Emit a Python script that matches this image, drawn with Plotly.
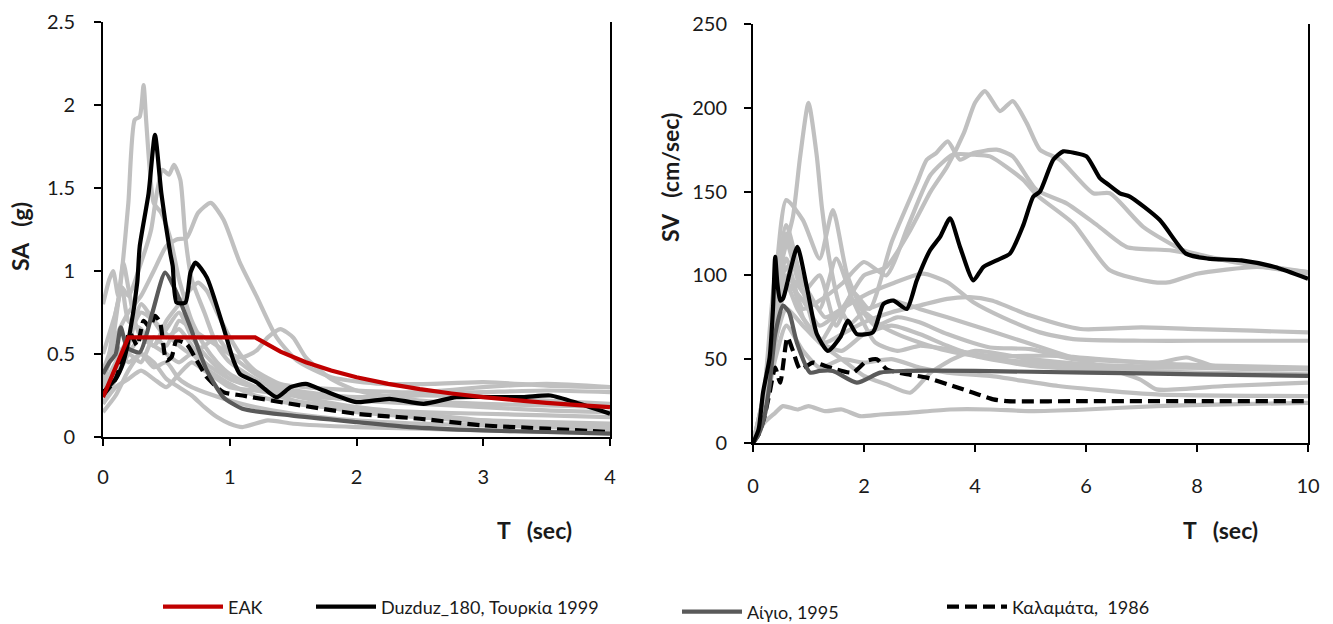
import plotly.graph_objects as go

W, H = 1333, 624
FONT = "Lato, 'Open Sans', sans-serif"

# ---------------- Left panel: SA (g) vs T (sec) ----------------
eak_T = [0, 0.2, 1.2, 1.4, 1.6, 1.8, 2.0, 2.25, 2.5, 2.75, 3.0, 3.25, 3.5, 3.75, 4.0]
eak_SA = [0.24, 0.6, 0.6, 0.514, 0.45, 0.4, 0.36, 0.32, 0.288, 0.262, 0.24, 0.222, 0.206, 0.192, 0.18]

duz_T_sa = [0, 0.1, 0.16, 0.21, 0.27, 0.29, 0.36, 0.41, 0.46, 0.53, 0.55, 0.58, 0.65, 0.69, 0.73, 0.82,
            0.95, 1.03, 1.08, 1.21, 1.37, 1.48, 1.6, 1.74, 2.0, 2.26, 2.53, 2.79, 3.31, 3.53, 3.76, 4.0]
duz_SA = [0.27, 0.35, 0.45, 0.62, 0.93, 1.15, 1.47, 1.82, 1.47, 1.11, 1.03, 0.81, 0.81, 0.99, 1.05, 0.96,
          0.66, 0.46, 0.38, 0.33, 0.24, 0.30, 0.32, 0.28, 0.21, 0.23, 0.20, 0.24, 0.24, 0.25, 0.20, 0.14]

aig_T_sa = [0, 0.05, 0.1, 0.14, 0.19, 0.29, 0.39, 0.49, 0.58, 0.69, 0.82, 0.95, 1.1, 1.48, 2.0, 2.42, 3.0, 3.5, 4.0]
aig_SA = [0.38, 0.45, 0.5, 0.66, 0.54, 0.51, 0.75, 0.99, 0.87, 0.66, 0.40, 0.24, 0.17, 0.13, 0.09, 0.06, 0.04, 0.03, 0.02]

kal_T_sa = [0, 0.1, 0.16, 0.21, 0.27, 0.32, 0.37, 0.41, 0.45, 0.5, 0.54, 0.58, 0.66, 0.74, 0.82, 0.95,
            1.1, 1.48, 2.0, 2.5, 3.0, 3.5, 4.0]
kal_SA = [0.25, 0.35, 0.5, 0.63, 0.55, 0.70, 0.66, 0.73, 0.69, 0.46, 0.48, 0.58, 0.56, 0.46, 0.36, 0.27,
          0.25, 0.20, 0.14, 0.11, 0.07, 0.05, 0.03]

gray_sa = [
    ([0, 0.05, 0.1, 0.15, 0.2, 0.25, 0.29, 0.32, 0.34, 0.37, 0.4, 0.46, 0.53, 0.6, 0.7, 0.8, 0.9, 1.0, 1.2, 1.5, 2, 2.5, 3, 3.5, 4],
     [0.35, 0.45, 0.7, 1.0, 1.41, 1.91, 1.93, 2.12, 1.91, 1.6, 1.41, 1.35, 1.2, 0.95, 0.7, 0.55, 0.45, 0.38, 0.3, 0.22, 0.15, 0.12, 0.09, 0.07, 0.06]),
    ([0, 0.05, 0.1, 0.15, 0.2, 0.3, 0.38, 0.42, 0.47, 0.52, 0.56, 0.61, 0.65, 0.7, 0.8, 0.9, 1.0, 1.2, 1.5, 2, 2.5, 3, 3.5, 4],
     [0.3, 0.5, 0.75, 0.9, 0.85, 1.05, 1.25, 1.45, 1.61, 1.58, 1.64, 1.55, 1.2, 0.95, 0.75, 0.55, 0.45, 0.35, 0.25, 0.18, 0.14, 0.1, 0.08, 0.06]),
    ([0, 0.1, 0.2, 0.3, 0.4, 0.5, 0.58, 0.66, 0.75, 0.85, 0.95, 1.08, 1.21, 1.37, 1.53, 1.8, 2.2, 2.6, 3.0, 3.5, 4],
     [0.4, 0.6, 0.75, 0.85, 1.0, 1.15, 1.19, 1.2, 1.35, 1.41, 1.31, 1.05, 0.85, 0.6, 0.46, 0.36, 0.32, 0.32, 0.33, 0.31, 0.3]),
    ([0, 0.1, 0.2, 0.3, 0.4, 0.5, 0.6, 0.7, 0.8, 0.9, 1.0, 1.1, 1.21, 1.3, 1.4, 1.5, 1.6, 1.8, 2.0, 2.5, 3, 3.5, 4],
     [0.2, 0.35, 0.5, 0.45, 0.6, 0.55, 0.7, 0.65, 0.6, 0.55, 0.5, 0.48, 0.52, 0.6, 0.65, 0.6, 0.48, 0.35, 0.28, 0.22, 0.2, 0.19, 0.18]),
    ([0, 0.05, 0.08, 0.12, 0.16, 0.2, 0.25, 0.3, 0.4, 0.5, 0.6, 0.7, 0.8, 1.0, 1.2, 1.5, 2, 2.5, 3, 4],
     [0.8, 0.95, 1.0, 0.85, 1.05, 0.9, 0.7, 0.6, 0.55, 0.5, 0.45, 0.5, 0.42, 0.32, 0.25, 0.2, 0.16, 0.12, 0.1, 0.08]),
    ([0, 0.1, 0.2, 0.3, 0.4, 0.5, 0.6, 0.68, 0.75, 0.82, 0.9, 1.0, 1.1, 1.2, 1.4, 1.6, 2, 2.5, 3, 3.5, 4],
     [0.25, 0.35, 0.5, 0.6, 0.55, 0.7, 0.8, 0.88, 0.93, 0.88, 0.75, 0.6, 0.48, 0.4, 0.32, 0.3, 0.28, 0.27, 0.3, 0.32, 0.3]),
    ([0, 0.1, 0.2, 0.3, 0.4, 0.5, 0.6, 0.7, 0.8, 0.9, 1.0, 1.1, 1.3, 1.5, 2, 2.5, 3, 3.5, 4],
     [0.15, 0.25, 0.4, 0.5, 0.45, 0.35, 0.3, 0.25, 0.18, 0.12, 0.08, 0.06, 0.1, 0.08, 0.06, 0.05, 0.04, 0.03, 0.03]),
    ([0, 0.1, 0.15, 0.2, 0.3, 0.4, 0.5, 0.6, 0.7, 0.8, 0.9, 1.0, 1.2, 1.5, 2, 2.5, 3, 3.5, 4],
     [0.5, 0.75, 0.9, 0.7, 0.65, 0.55, 0.65, 0.75, 0.6, 0.5, 0.42, 0.35, 0.3, 0.27, 0.22, 0.2, 0.18, 0.16, 0.15]),
    ([0, 0.1, 0.2, 0.3, 0.4, 0.5, 0.6, 0.7, 0.8, 0.9, 1.0, 1.2, 1.5, 2, 2.5, 3, 3.5, 4],
     [0.2, 0.3, 0.35, 0.4, 0.35, 0.3, 0.38, 0.45, 0.4, 0.35, 0.3, 0.28, 0.25, 0.23, 0.25, 0.24, 0.22, 0.2]),
    ([0, 0.1, 0.2, 0.3, 0.4, 0.5, 0.6, 0.7, 0.8, 0.9, 1.0, 1.2, 1.4, 1.7, 2, 2.5, 3, 3.5, 4],
     [0.3, 0.45, 0.6, 0.75, 0.7, 0.62, 0.55, 0.5, 0.55, 0.6, 0.5, 0.38, 0.3, 0.26, 0.24, 0.26, 0.27, 0.28, 0.27]),
    ([0, 0.1, 0.2, 0.3, 0.4, 0.5, 0.6, 0.7, 0.8, 1.0, 1.2, 1.5, 2, 2.5, 3, 3.5, 4],
     [0.35, 0.55, 0.45, 0.5, 0.42, 0.45, 0.35, 0.3, 0.27, 0.22, 0.18, 0.14, 0.1, 0.08, 0.07, 0.06, 0.05]),
    ([0, 0.1, 0.2, 0.3, 0.4, 0.5, 0.6, 0.7, 0.8, 1.0, 1.2, 1.5, 2, 2.5, 3, 3.5, 4],
     [0.25, 0.4, 0.55, 0.8, 0.7, 0.6, 0.65, 0.55, 0.45, 0.35, 0.3, 0.22, 0.17, 0.15, 0.14, 0.13, 0.12]),
]

# ---------------- Right panel: SV (cm/sec) vs T (sec) ----------------
duz_T_sv = [0, 0.1, 0.18, 0.3, 0.36, 0.4, 0.44, 0.49, 0.54, 0.65, 0.8, 0.97, 1.15, 1.35, 1.57, 1.71, 1.87,
            2.16, 2.35, 2.53, 2.77, 2.95, 3.19, 3.37, 3.55, 3.73, 3.97, 4.15, 4.39, 4.63, 4.87, 5.05, 5.17,
            5.41, 5.59, 5.8, 6.01, 6.25, 6.37, 6.61, 6.79, 7.33, 7.8, 8.2, 8.8, 9.4, 10]
duz_SV = [0, 8, 30, 51, 80, 111, 95, 85, 86, 100, 117, 93, 65, 55, 63, 73, 65,
          66, 83, 85, 80, 97, 115, 123, 134, 117, 97, 105, 109, 113, 130, 147, 150,
          169, 174, 173, 171, 158, 155, 149, 147, 133, 113, 110, 109, 105, 98]

aig_T_sv = [0, 0.1, 0.2, 0.3, 0.4, 0.54, 0.65, 0.79, 1.03, 1.2, 1.44, 1.87, 2.29, 2.77, 4, 6, 8, 10]
aig_SV = [0, 5, 15, 35, 65, 82, 78, 60, 42, 43, 43, 36, 42, 43, 43, 42, 41, 40]

kal_T_sv = [0, 0.1, 0.2, 0.3, 0.4, 0.49, 0.62, 0.72, 0.85, 1.08, 1.39, 1.8, 2.05, 2.23, 2.41, 2.77,
            3.13, 3.6, 3.97, 4.33, 4.57, 6, 8, 10]
kal_SV = [0, 5, 15, 30, 45, 36, 63, 55, 44, 48, 45, 42, 49, 50, 44, 41, 39, 34, 30, 26, 25, 25, 25, 25]

gray_sv = [
    ([0, 0.2, 0.36, 0.54, 0.72, 0.85, 1.0, 1.15, 1.24, 1.39, 1.57, 1.75, 2.0, 2.3, 2.6, 3.0, 3.5, 4.0, 5, 6, 7, 8, 9, 10],
     [0, 30, 71, 111, 135, 171, 203, 171, 141, 107, 81, 71, 78, 70, 65, 60, 55, 52, 48, 46, 45, 45, 44, 44]),
    ([0, 0.2, 0.4, 0.6, 0.9, 1.2, 1.6, 2.0, 2.4, 2.8, 3.2, 3.5, 3.8, 4.0, 4.18, 4.45, 4.68, 4.93, 5.17, 5.53, 6.13, 6.43, 7.03, 7.75, 8.23, 8.95, 10],
     [0, 25, 60, 95, 85, 70, 80, 100, 105, 125, 150, 165, 185, 203, 210, 198, 204, 191, 175, 169, 149, 149, 129, 115, 111, 107, 102]),
    ([0, 0.2, 0.4, 0.6, 0.9, 1.2, 1.5, 1.8, 2.1, 2.5, 2.95, 3.13, 3.3, 3.51, 3.73, 3.97, 4.39, 4.68, 5.11, 5.65, 6.2, 6.73, 7.51, 8.17, 9, 10],
     [0, 30, 100, 120, 90, 100, 70, 90, 80, 120, 155, 169, 173, 180, 169, 173, 175, 171, 151, 143, 130, 117, 115, 111, 106, 102]),
    ([0, 0.2, 0.4, 0.6, 0.9, 1.2, 1.6, 2.0, 2.4, 2.8, 3.2, 3.6, 4.0, 4.27, 4.87, 5.11, 5.77, 6.43, 7.21, 7.51, 8.0, 9.08, 10],
     [0, 20, 60, 110, 80, 85, 95, 108, 100, 130, 160, 172, 172, 171, 157, 148, 131, 103, 96, 96, 101, 105, 101]),
    ([0, 0.2, 0.4, 0.6, 0.8, 1.0, 1.3, 1.6, 2.0, 2.5, 3.06, 3.5, 3.97, 4.5, 5.17, 5.77, 7, 8, 9, 10],
     [0, 20, 90, 125, 100, 90, 75, 80, 88, 95, 101, 96, 84, 75, 66, 62, 61, 61, 61, 61]),
    ([0, 0.2, 0.4, 0.6, 0.8, 1.0, 1.3, 1.6, 2.0, 2.5, 3.0, 3.5, 3.9, 4.3, 5, 5.9, 7, 8, 9, 10],
     [0, 15, 60, 95, 80, 70, 60, 65, 72, 78, 82, 86, 87, 85, 76, 68, 69, 68, 67, 66]),
    ([0, 0.2, 0.4, 0.54, 0.8, 1.0, 1.3, 1.6, 1.93, 2.3, 2.8, 3.55, 4.27, 5, 6, 7.27, 8.5, 10],
     [0, 12, 18, 22, 20, 22, 19, 20, 16, 17, 18, 20, 20, 19, 20, 22, 23, 24]),
    ([0, 0.2, 0.4, 0.6, 0.9, 1.2, 1.5, 1.8, 2.2, 2.6, 3.0, 3.5, 4.27, 5.0, 5.77, 6.5, 7.3, 7.81, 8.3, 9, 10],
     [0, 20, 70, 100, 90, 60, 75, 85, 70, 75, 72, 65, 57, 56, 50, 49, 48, 51, 46, 45, 44]),
    ([0, 0.2, 0.4, 0.6, 0.9, 1.2, 1.5, 1.8, 2.2, 2.6, 3.0, 3.5, 4.27, 5.47, 7, 8.5, 10],
     [0, 25, 85, 130, 95, 80, 110, 85, 60, 55, 58, 56, 52, 52, 48, 46, 45]),
    ([0, 0.2, 0.4, 0.6, 0.9, 1.2, 1.44, 1.7, 2.0, 2.5, 3.0, 3.5, 4.27, 5.47, 6.97, 7.27, 8.5, 10],
     [0, 30, 95, 145, 133, 110, 139, 100, 80, 85, 80, 75, 67, 54, 38, 32, 34, 36]),
    ([0, 0.2, 0.4, 0.6, 0.9, 1.2, 1.6, 2.0, 2.5, 3.0, 3.5, 4.27, 5.5, 7.27, 10],
     [0, 18, 50, 70, 55, 45, 50, 48, 50, 45, 42, 40, 34, 29, 28]),
    ([0, 0.2, 0.4, 0.6, 0.9, 1.2, 1.6, 2.0, 2.5, 3.0, 3.5, 4.0, 5, 6, 7, 8, 10],
     [0, 20, 60, 80, 70, 60, 55, 65, 70, 65, 58, 52, 46, 44, 43, 42, 41]),
    ([0, 0.2, 0.4, 0.6, 0.9, 1.2, 1.6, 2.0, 2.4, 2.83, 3.2, 3.6, 4.0, 5, 6, 8, 10],
     [0, 25, 80, 105, 75, 60, 50, 40, 35, 30, 42, 50, 55, 50, 47, 45, 44]),
]

LEGEND_NAMES = ["ΕΑΚ", "Duzduz_180, Τουρκία 1999", "Αίγιο, 1995", "Καλαμάτα,  1986"]

GRAY = "#c0c0c0"
RED = "#c00000"
BLACK = "#000000"
DGRAY = "#5a5a5a"
LW = 4.2

fig = go.Figure()

def add(x, y, color, xa, ya, dash="solid", name=None, legend=None, show=False, smooth=0.6):
    fig.add_trace(go.Scatter(
        x=x, y=y, mode="lines", xaxis=xa, yaxis=ya,
        line=dict(color=color, width=LW, dash=dash, shape="spline", smoothing=smooth),
        name=name, showlegend=show, legend=legend, hoverinfo="skip"))

for t, v in gray_sa:
    add(t, v, GRAY, "x", "y")
for t, v in gray_sv:
    add(t, v, GRAY, "x2", "y2")

add(kal_T_sa, kal_SA, BLACK, "x", "y", dash="12px,6px", name=LEGEND_NAMES[3], legend="legend4", show=True)
add(kal_T_sv, kal_SV, BLACK, "x2", "y2", dash="12px,6px")
add(aig_T_sa, aig_SA, DGRAY, "x", "y", name=LEGEND_NAMES[2], legend="legend3", show=True)
add(aig_T_sv, aig_SV, DGRAY, "x2", "y2")
add(duz_T_sa, duz_SA, BLACK, "x", "y", name=LEGEND_NAMES[1], legend="legend2", show=True)
add(duz_T_sv, duz_SV, BLACK, "x2", "y2")
add(eak_T, eak_SA, RED, "x", "y", name=LEGEND_NAMES[0], legend="legend", show=True, smooth=0)

tickfont = dict(family=FONT, size=20, color="#1a1a1a")
axis_common = dict(showline=True, linecolor="black", linewidth=2, ticks="outside", ticklen=7,
                   tickwidth=2, tickcolor="black", showgrid=False, zeroline=False, tickfont=tickfont,
                   automargin=False)

fig.update_layout(
    width=W, height=H, margin=dict(l=0, r=0, t=0, b=0, autoexpand=False),
    paper_bgcolor="white", plot_bgcolor="white",
    font=dict(family=FONT, size=18, color="#1a1a1a"),
    xaxis=dict(domain=[103 / W, 610 / W], range=[0, 4], tickvals=[0, 1, 2, 3, 4],
               anchor="y", ticklabelstandoff=14, **axis_common),
    yaxis=dict(domain=[1 - 437 / H, 1 - 22 / H], range=[0, 2.5], tickvals=[0, 0.5, 1, 1.5, 2, 2.5],
               ticktext=["0", "0.5", "1", "1.5", "2", "2.5"], anchor="x", mirror=True,
               ticklabelstandoff=15, **axis_common),
    xaxis2=dict(domain=[753 / W, 1308 / W], range=[0, 10], tickvals=[0, 2, 4, 6, 8, 10],
                anchor="y2", ticklabelstandoff=17, **axis_common),
    yaxis2=dict(domain=[1 - 443 / H, 1 - 24 / H], range=[0, 250], tickvals=[0, 50, 100, 150, 200, 250],
                anchor="x2", mirror=True, ticklabelstandoff=13, **axis_common),
)

leg_common = dict(orientation="h", yanchor="middle", xanchor="left", bgcolor="rgba(0,0,0,0)",
                  font=dict(family=FONT, size=18, color="#1a1a1a"), itemwidth=60)
fig.update_layout(
    legend=dict(x=158 / W, y=1 - 607 / H, **leg_common),
    legend2=dict(x=311 / W, y=1 - 607 / H, **leg_common),
    legend3=dict(x=677 / W, y=1 - 612 / H, **leg_common),
    legend4=dict(x=942 / W, y=1 - 607 / H, **leg_common),
)

nb = "\u00a0"
ann_font = dict(family=FONT, size=23, color="#1a1a1a")
common_ann = dict(xref="paper", yref="paper", showarrow=False, font=ann_font,
                  xanchor="center", yanchor="middle")
fig.add_annotation(text=f"<b>SA{nb}{nb}{nb}(g)</b>", x=20 / W, y=1 - 237 / H, textangle=-90, **common_ann)
fig.add_annotation(text=f"<b>SV{nb}{nb}{nb}(cm/sec)</b>", x=670 / W, y=1 - 178 / H, textangle=-90, **common_ann)
fig.add_annotation(text=f"<b>T{nb}{nb}{nb}(sec)</b>", x=534 / W, y=1 - 530 / H, **common_ann)
fig.add_annotation(text=f"<b>T{nb}{nb}{nb}(sec)</b>", x=1220 / W, y=1 - 530 / H, **common_ann)

fig.write_html("out.html")
